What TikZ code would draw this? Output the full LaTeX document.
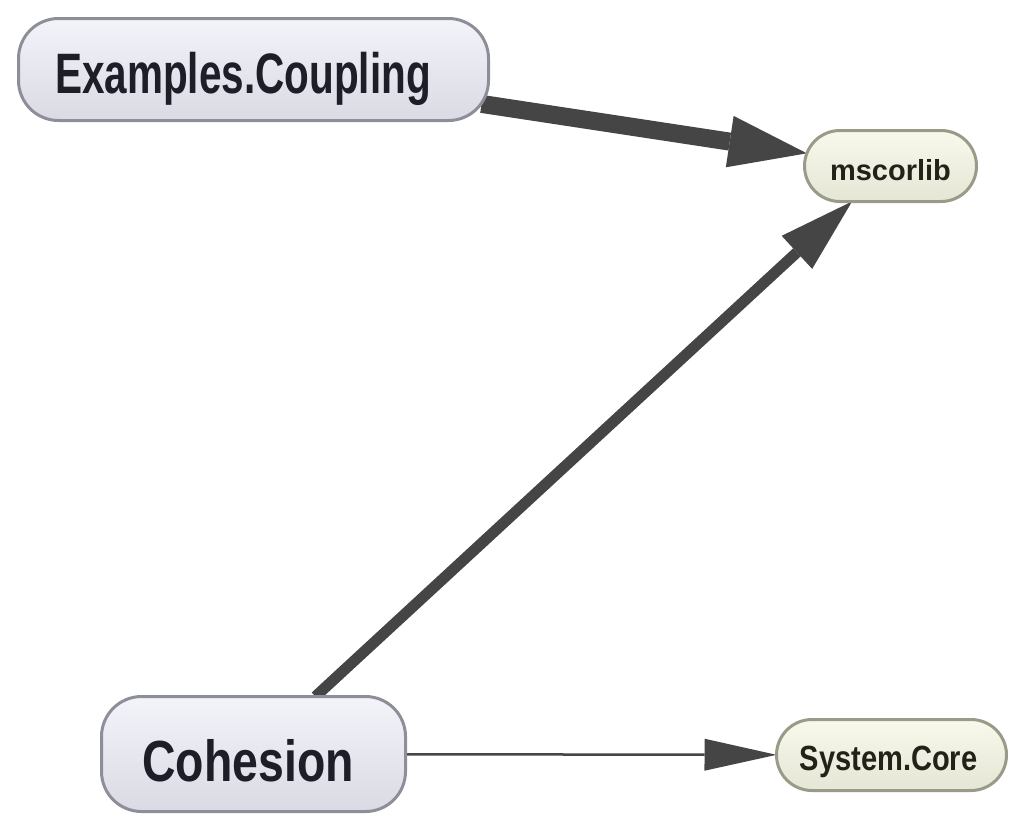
\documentclass[tikz,border=0pt]{standalone}
\usepackage{fontspec}
\setmainfont{Liberation Sans}
\usetikzlibrary{arrows.meta,shapes.misc,backgrounds}
\definecolor{edgec}{HTML}{454545}
\definecolor{bluetop}{HTML}{F3F3FA}
\definecolor{bluebot}{HTML}{DADAE4}
\definecolor{bluebd}{HTML}{8E8E98}
\definecolor{bluetxt}{HTML}{1E1E28}
\definecolor{beigetop}{HTML}{F8F8EC}
\definecolor{beigebot}{HTML}{E6E6D6}
\definecolor{beigebd}{HTML}{9A9A88}
\definecolor{beigetxt}{HTML}{222218}
\newcommand{\lbl}[4]{\hspace*{#4}\scalebox{#2}[1]{\fontsize{#1}{#1}\selectfont\bfseries #3}}
\begin{document}
\begin{tikzpicture}[x=1pt,y=-1pt,
  bluenode/.style={rectangle, rounded corners=40pt, draw=bluebd, line width=3pt,
    top color=bluetop, bottom color=bluebot, inner sep=0pt, outer sep=0pt, text=bluetxt, text depth=0pt},
  beigenode/.style={rounded rectangle, draw=beigebd, line width=3pt,
    top color=beigetop, bottom color=beigebot, inner sep=0pt, outer sep=0pt, text=beigetxt, text depth=0pt},
  edgeline/.style={draw=edgec, line cap=butt}
]
\useasboundingbox (0,0) rectangle (1024,830);

\node[bluenode, minimum width=470pt, minimum height=102pt, text height=47.5pt]
  (ex) at (253.5,69.5) {\lbl{57}{0.71}{Examples.Coupling}{-21pt}};
\node[bluenode, minimum width=304pt, minimum height=115pt, text height=55.5pt]
  (coh) at (253.5,754) {\lbl{58}{0.80}{Cohesion}{-11pt}};
\node[beigenode, minimum width=172pt, minimum height=71pt, text height=28pt]
  (ms) at (890.5,166) {\lbl{29}{1.0}{mscorlib}{0pt}};
\node[beigenode, minimum width=230pt, minimum height=71pt, text height=30pt]
  (sc) at (891.5,755) {\lbl{35}{0.83}{System.Core}{-6pt}};

\begin{scope}[on background layer]
\draw[edgeline, line width=18pt, shorten <=-7pt,
  -{Triangle[length=78pt,width=52pt,line width=0pt]}] (ex) -- (ms);
\draw[edgeline, line width=11pt,
  -{Triangle[length=75pt,width=45pt,line width=0pt]}] (coh) -- (ms);
\draw[edgeline, line width=2.5pt,
  -{Triangle[length=72pt,width=32pt,line width=0pt]}] (coh) -- (sc);
\end{scope}
\end{tikzpicture}
\end{document}
